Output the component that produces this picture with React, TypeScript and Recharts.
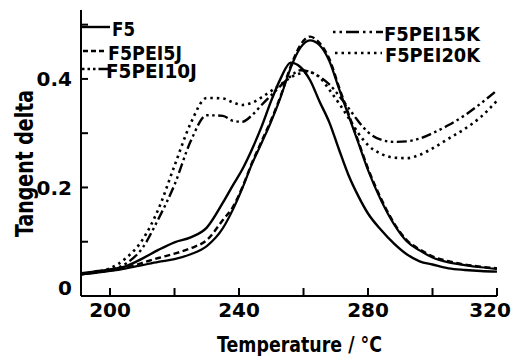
import { LineChart, Line, XAxis, YAxis, Legend, Label } from "recharts";

// temperatures (°C) shared by all curves
const temps = [
  191, 195, 200, 205, 210, 215, 220, 225, 230, 235,
  238, 241, 244, 247, 250, 253, 256, 259, 262, 265,
  268, 271, 274, 277, 280, 284, 288, 292, 296, 300,
  305, 310, 315, 320,
];

const f5 = [
  0.042, 0.045, 0.049, 0.055, 0.069, 0.085, 0.099, 0.108, 0.126, 0.172,
  0.203, 0.233, 0.27, 0.312, 0.36, 0.402, 0.43, 0.422, 0.398, 0.358,
  0.32, 0.27, 0.222, 0.184, 0.152, 0.122, 0.097, 0.077, 0.064, 0.058,
  0.051, 0.048, 0.046, 0.045,
];

const pei5j = [
  0.04, 0.043, 0.047, 0.052, 0.061, 0.07, 0.078, 0.088, 0.103, 0.14,
  0.163, 0.2, 0.245, 0.285, 0.325, 0.37, 0.423, 0.462, 0.478, 0.466,
  0.437, 0.385, 0.335, 0.285, 0.235, 0.18, 0.135, 0.103, 0.086, 0.073,
  0.064, 0.058, 0.054, 0.051,
];

const pei10j = [
  0.04, 0.042, 0.046, 0.051, 0.057, 0.063, 0.068, 0.077, 0.092, 0.125,
  0.158, 0.198, 0.243, 0.282, 0.322, 0.368, 0.42, 0.457, 0.471, 0.462,
  0.433, 0.382, 0.332, 0.282, 0.232, 0.177, 0.133, 0.101, 0.084, 0.071,
  0.062, 0.057, 0.053, 0.05,
];

const pei15k = [
  0.04, 0.043, 0.048, 0.06, 0.088, 0.142, 0.205, 0.285, 0.333, 0.332,
  0.323, 0.321, 0.333, 0.352, 0.37, 0.388, 0.405, 0.416, 0.413, 0.404,
  0.39, 0.369, 0.346, 0.322, 0.302, 0.288, 0.284, 0.285, 0.29, 0.3,
  0.315, 0.333, 0.355, 0.379,
];

const pei20k = [
  0.041, 0.044, 0.051, 0.07, 0.103, 0.16, 0.24, 0.318, 0.365, 0.364,
  0.357, 0.352, 0.356, 0.366, 0.378, 0.39, 0.403, 0.41, 0.412, 0.403,
  0.38, 0.355, 0.328, 0.3, 0.278, 0.262, 0.255, 0.254, 0.26, 0.272,
  0.29, 0.308, 0.33, 0.36,
];

const names = ["F5", "F5PEI5J", "F5PEI10J", "F5PEI15K", "F5PEI20K"];

const xTicks = [200, 220, 240, 260, 280, 300, 320];
const xLabels = [200, 240, 280, 320];
const yTicks = [0, 0.1, 0.2, 0.3, 0.4, 0.5];
const yLabels = [0, 0.2, 0.4];

const rows = temps.map((t, i) => ({
  t,
  f5: f5[i],
  pei5j: pei5j[i],
  pei10j: pei10j[i],
  pei15k: pei15k[i],
  pei20k: pei20k[i],
}));

const FONT = "'DejaVu Sans', sans-serif";
const INK = "#000";
const DASH_DOT = "10 3.5 2.5 3.5 2.5 3.5";
const DOTS = "2.5 4";

// tick marks point into the plot, so they are drawn here next to the labels
function XTick(props: any) {
  const { x, y, payload } = props;
  const v = payload.value;
  const shift = v === 320 ? -7 : 0;
  return (
    <g>
      <path d={`M${x},${y - 6}V${y - 14}`} stroke={INK} strokeWidth={2} fill="none" />
      {xLabels.includes(v) && (
        <text x={x + shift} y={y + 14.7} textAnchor="middle" fontSize={20} fontWeight="bold" fontFamily={FONT} fill={INK}>
          {v}
        </text>
      )}
    </g>
  );
}

function YTick(props: any) {
  const { x, y, payload } = props;
  const v = payload.value;
  const base = v === 0 ? y - 1 : y + 7.5;
  return (
    <g>
      <path d={`M${x + 8},${y}H${x + 15}`} stroke={INK} strokeWidth={2} fill="none" />
      {yLabels.includes(v) && (
        <text x={x - 1} y={base} textAnchor="end" fontSize={20} fontWeight="bold" fontFamily={FONT} fill={INK}>
          {v === 0 ? "0" : v.toFixed(1)}
        </text>
      )}
    </g>
  );
}

function LegendBox() {
  const txt = { fontSize: 20, fontWeight: "bold" as const, fontFamily: FONT, fill: INK };
  return (
    <svg width={513} height={356} style={{ display: "block" }}>
      <line x1={82} y1={27} x2={110} y2={27} stroke={INK} strokeWidth={2.4} />
      <text x={112} y={36} textLength={23} lengthAdjust="spacingAndGlyphs" {...txt}>{names[0]}</text>

      <line x1={83} y1={51} x2={107} y2={51} stroke={INK} strokeWidth={2.4} strokeDasharray="5 3" />
      <text x={108} y={60} textLength={74} lengthAdjust="spacingAndGlyphs" {...txt}>{names[1]}</text>

      <line x1={82} y1={69} x2={108} y2={69} stroke={INK} strokeWidth={2.4} strokeDasharray="2.5 3 2.5 3 2.5 3 8 0" />
      <text x={106} y={78} textLength={91} lengthAdjust="spacingAndGlyphs" {...txt}>{names[2]}</text>

      <line x1={333} y1={32} x2={383} y2={32} stroke={INK} strokeWidth={2.4} strokeDasharray="2.5 4 2.5 4 13 4" />
      <text x={384} y={41} textLength={96} lengthAdjust="spacingAndGlyphs" {...txt}>{names[3]}</text>

      <line x1={335} y1={53} x2={382} y2={53} stroke={INK} strokeWidth={2.6} strokeDasharray={DOTS} />
      <text x={385} y={61.5} textLength={95} lengthAdjust="spacingAndGlyphs" {...txt}>{names[4]}</text>
    </svg>
  );
}

function XTitle() {
  return (
    <text x={217} y={352} textLength={165} lengthAdjust="spacingAndGlyphs" fontSize={21} fontWeight="bold" fontFamily={FONT} fill={INK}>
      Temperature / °C
    </text>
  );
}

function YTitle() {
  return (
    <text
      transform="translate(33,163.5) rotate(-90)"
      textAnchor="middle"
      textLength={147}
      lengthAdjust="spacingAndGlyphs"
      fontSize={24}
      fontWeight="bold"
      fontFamily={FONT}
      fill={INK}
    >
      Tangent delta
    </text>
  );
}

export default function App() {
  const axisLine = { stroke: INK, strokeWidth: 2 };
  return (
    <div style={{ position: "absolute", left: 0, top: 0, width: 513, height: 356, background: "#fff" }}>
      <LineChart width={513} height={356} data={rows} margin={{ top: 10, right: 16, bottom: 0, left: 0 }}>
        <XAxis
          dataKey="t"
          type="number"
          domain={[191, 320]}
          ticks={xTicks}
          interval={0}
          height={60}
          tickSize={0}
          tickMargin={6}
          tickLine={false}
          tick={(p: any) => <XTick {...p} />}
          axisLine={axisLine}
        >
          <Label content={() => <XTitle />} />
        </XAxis>
        <XAxis
          xAxisId="top"
          orientation="top"
          dataKey="t"
          type="number"
          domain={[191, 320]}
          height={0}
          tick={false}
          tickLine={false}
          axisLine={axisLine}
        />
        <YAxis
          type="number"
          domain={[0, 0.527]}
          ticks={yTicks}
          interval={0}
          width={81}
          tickSize={0}
          tickMargin={8}
          tickLine={false}
          tick={(p: any) => <YTick {...p} />}
          axisLine={axisLine}
        >
          <Label content={() => <YTitle />} />
        </YAxis>
        <YAxis
          yAxisId="right"
          orientation="right"
          type="number"
          domain={[0, 0.527]}
          width={0}
          tick={false}
          tickLine={false}
          axisLine={axisLine}
        />
        <Legend
          verticalAlign="middle"
          layout="horizontal"
          align="center"
          content={() => <LegendBox />}
          wrapperStyle={{ left: 0, top: 0, width: 513, height: 356, pointerEvents: "none" }}
        />
        <Line dataKey="f5" type="monotone" stroke={INK} strokeWidth={2.4} dot={false} isAnimationActive={false} />
        <Line dataKey="pei5j" type="monotone" stroke={INK} strokeWidth={2.4} strokeDasharray="6 3.5" dot={false} isAnimationActive={false} />
        <Line dataKey="pei10j" type="monotone" stroke={INK} strokeWidth={2.2} dot={false} isAnimationActive={false} />
        <Line dataKey="pei15k" type="monotone" stroke={INK} strokeWidth={2.4} strokeDasharray={DASH_DOT} dot={false} isAnimationActive={false} />
        <Line dataKey="pei20k" type="monotone" stroke={INK} strokeWidth={2.6} strokeDasharray={DOTS} dot={false} isAnimationActive={false} />
      </LineChart>
    </div>
  );
}
